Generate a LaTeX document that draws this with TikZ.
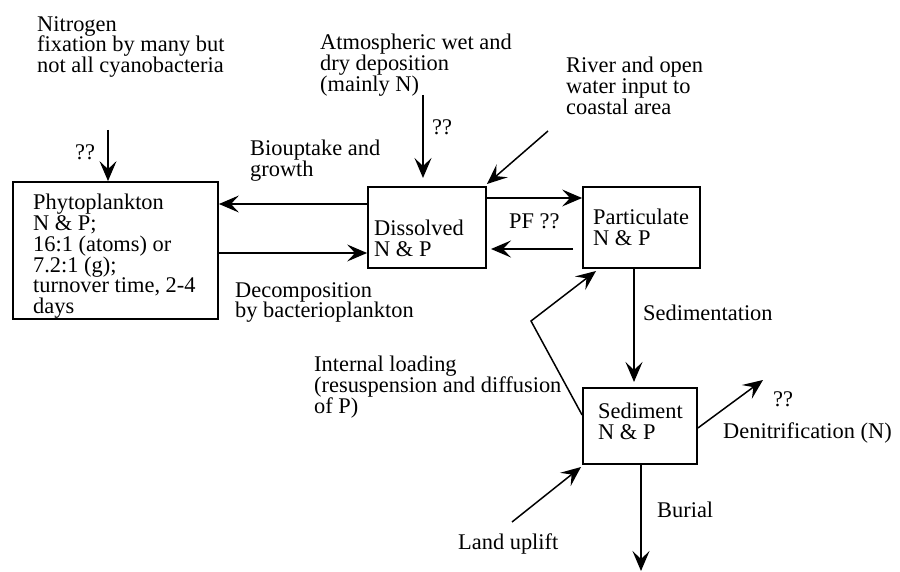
\documentclass[tikz,border=0pt]{standalone}
\usepackage{fontspec}
\setmainfont{Liberation Serif}
\usetikzlibrary{arrows.meta}
\begin{document}
\begin{tikzpicture}[x=1pt,y=-1pt,
  every node/.style={font=\fontsize{22.4}{20.8}\selectfont, inner sep=0pt},
  lbl/.style={anchor=north west, align=left},
  box/.style={draw, line width=1.8pt, inner sep=0pt},
  arr/.style={-{Stealth[length=20pt,width=17pt,inset=8pt]}, line width=1.5pt}]
\useasboundingbox (0,0) rectangle (900,572);
% boxes
\node[box, minimum width=205pt, minimum height=137pt] (phyto) at (115.5,250.5) {};
\node[box, minimum width=118pt, minimum height=81pt] (dis) at (427,227.5) {};
\node[box, minimum width=117pt, minimum height=81pt] (part) at (641.5,227.5) {};
\node[box, minimum width=114pt, minimum height=76pt] (sed) at (640,426) {};
% box texts
\node[lbl] (phytotxt) at (33,194) {Phytoplankton\\N \& P;\\16:1 (atoms) or\\7.2:1 (g);\\turnover time, 2-4\\days};
\node[lbl] (distxt) at (374,220) {Dissolved\\N \& P};
\node[lbl] (parttxt) at (593,209) {Particulate\\N \& P};
\node[lbl] (sedtxt) at (598,403) {Sediment\\N \& P};
% labels
\node[lbl] (nfixtxt) at (37,16) {Nitrogen\\fixation by many but\\not all cyanobacteria};
\node[lbl] (atmtxt) at (320,34) {Atmospheric wet and\\dry deposition\\(mainly N)};
\node[lbl] (rivtxt) at (566,57) {River and open\\water input to\\coastal area};
\node[lbl] (biotxt) at (250,140) {Biouptake and\\growth};
\node[lbl] (dectxt) at (235,282) {Decomposition\\by bacterioplankton};
\node[lbl] (inttxt) at (314,356) {Internal loading\\(resuspension and diffusion\\of P)};
\node[anchor=base west] (pftxt) at (509,229) {PF ??};
\node[anchor=base west] (sedimtxt) at (643,320) {Sedimentation};
\node[anchor=base west] (dentxt) at (723,438) {Denitrification (N)};
\node[anchor=base west] (burtxt) at (657,517) {Burial};
\node[anchor=base west] (landtxt) at (458,549) {Land uplift};
\node[anchor=base] (q1) at (85,160) {??};
\node[anchor=base] (q2) at (442,135) {??};
\node[anchor=base] (q3) at (783,406) {??};
% free ends
\coordinate (nfix) at (108,130);
\coordinate (atm0) at (423,95);
\coordinate (atm1) at (423,178);
\coordinate (riv0) at (548,131);
\coordinate (riv1) at (487,184);
\coordinate (knee) at (531,321);
\coordinate (intend) at (596,271);
\coordinate (land0) at (512,522);
\coordinate (land1) at (581,467);
\coordinate (den1) at (763,380);
\coordinate (bur1) at (641,571);
\coordinate (sedim1) at (634,382);
\coordinate (pfb0) at (573,249);
\coordinate (pfb1) at (491,249);
% connectors
\draw[arr] (nfix) -- (nfix |- phyto.north);
\draw[arr] (atm0) -- (atm1);
\draw[arr] (riv0) -- (riv1);
\draw[arr] (dis.west |- 0,204) -- (phyto.east |- 0,204);
\draw[arr] (phyto.east |- 0,253) -- (dis.west |- 0,253);
\draw[arr] (dis.east |- 0,198) -- (part.west |- 0,198);
\draw[arr] (pfb0) -- (pfb1);
\draw[arr] (part.south -| sedim1) -- (sedim1);
\draw[arr] (sed.south -| bur1) -- (bur1);
\draw[arr] (sed.west |- 0,415) -- (knee) -- (intend);
\draw[arr] (land0) -- (land1);
\draw[arr] (sed.east |- 0,428) -- (den1);
\end{tikzpicture}
\end{document}
